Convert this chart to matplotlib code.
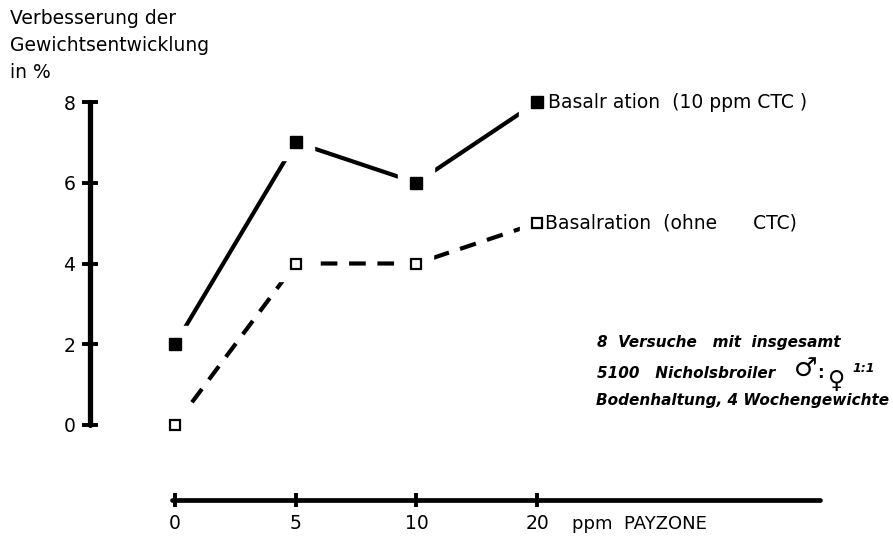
import matplotlib
matplotlib.use("Agg")
import matplotlib.pyplot as plt

# Data
ppm_labels = ["0", "5", "10", "20"]
with_ctc = [2, 7, 6, 8]
without_ctc = [0, 4, 4, 5]
y_ticks = [0, 2, 4, 6, 8]
series_labels = ["Basalr ation  (10 ppm CTC )", "Basalration  (ohne      CTC)"]
y_title = "Verbesserung der\nGewichtsentwicklung\nin %"
x_title = "ppm  PAYZONE"
note_line1 = "8  Versuche   mit  insgesamt"
note_line2 = "5100   Nicholsbroiler"
note_line3 = "Bodenhaltung, 4 Wochengewichte"
male, female, ratio = "\u2642", "\u2640", "1:1"

W, H = 893, 541
fig = plt.figure(figsize=(W / 100, H / 100), dpi=100)
ax = fig.add_axes([0, 0, 1, 1])

# pixel mapping
px_x0, px_dx = 175, 120.7
px_y0, px_dy = 425, 40.375
ax.set_xlim(-px_x0 / px_dx, (W - px_x0) / px_dx)
ax.set_ylim((px_y0 - H) / px_dy, px_y0 / px_dy)

def X(px):
    return (px - px_x0) / px_dx

def Y(py):
    return (px_y0 - py) / px_dy

xs = list(range(len(ppm_labels)))

for s in ["top", "right"]:
    ax.spines[s].set_visible(False)
ax.spines["left"].set_position(("data", X(90)))
ax.spines["left"].set_bounds(0, 8)
ax.spines["left"].set_linewidth(3.8)
ax.spines["bottom"].set_position(("data", Y(500)))
ax.spines["bottom"].set_bounds(X(172), X(820))
ax.spines["bottom"].set_linewidth(3.4)
ax.spines["left"].set_capstyle("round")
ax.spines["bottom"].set_capstyle("round")

ax.set_yticks(y_ticks)
ax.set_yticklabels([str(v) for v in y_ticks])
ax.set_xticks(xs)
ax.set_xticklabels(ppm_labels)
ax.tick_params(axis="y", direction="inout", length=11, width=2.8, pad=5, labelsize=13.5)
ax.tick_params(axis="x", direction="inout", length=10, width=2.8, pad=5, labelsize=13.5)

# lines with gaps around markers
ax.plot(xs, with_ctc, color="black", lw=3.0, solid_capstyle="round", zorder=2)
ax.plot(xs, without_ctc, color="black", lw=3.0, dashes=(4, 2.8), zorder=2)
ax.plot(xs, with_ctc, linestyle="none", marker="s", ms=26, color="white", mec="white", zorder=3)
ax.plot(xs, without_ctc, linestyle="none", marker="s", ms=24, color="white", mec="white", zorder=3)
ax.plot(xs, with_ctc, linestyle="none", marker="s", ms=8, color="black", zorder=4)
ax.plot(xs, without_ctc, linestyle="none", marker="s", ms=6.5, mfc="white", mec="black", mew=1.6, zorder=4)

# series labels
ax.text(X(548), with_ctc[-1], series_labels[0], fontsize=13.5, va="center", ha="left", zorder=5)
ax.text(X(545), without_ctc[-1], series_labels[1], fontsize=13.5, va="center", ha="left", zorder=5)

# titles
fig.text(10 / W, 1 - 9 / H, y_title, fontsize=13.5, va="top", ha="left", linespacing=1.55)
ax.text(X(572), Y(524), x_title, fontsize=13, va="center", ha="left")

# note
kw = dict(fontsize=11, fontweight="bold", fontstyle="italic", va="center", ha="left")
ax.text(X(597), Y(343), note_line1, **kw)
ax.text(X(597), Y(373), note_line2, **kw)
ax.text(X(596), Y(401), note_line3, **kw)
ax.text(X(794), Y(370), male, fontsize=19, va="center", ha="left")
ax.text(X(817), Y(373), ":", fontsize=12, fontweight="bold", va="center", ha="left")
ax.text(X(828), Y(381), female, fontsize=17, va="center", ha="left")
ax.text(X(852), Y(369), ratio, fontsize=9, fontweight="bold", fontstyle="italic", va="center", ha="left")

fig.savefig("out.png", dpi=100, facecolor="white")
